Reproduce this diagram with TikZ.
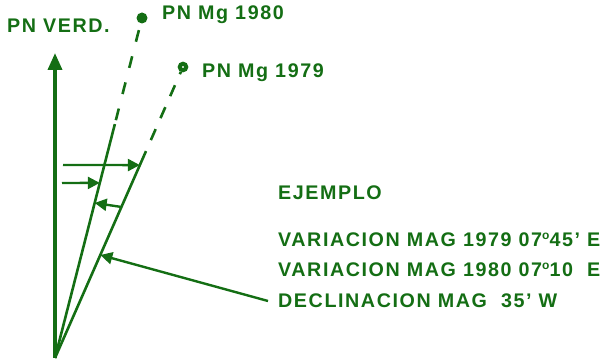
\documentclass[tikz,border=0pt]{standalone}
\usepackage{fontspec}
\usepackage{tikz}
\usetikzlibrary{arrows.meta,calc}
\newfontfamily\labelfont{Liberation Sans}[LetterSpace=8]
\definecolor{ngreen}{HTML}{146E14}
\newcommand{\degr}{\raisebox{7pt}{\fontsize{12}{12}\selectfont o}}
\tikzset{
  lbl/.style={font=\labelfont\fontsize{19.7}{22}\selectfont\bfseries, text=ngreen, inner sep=0pt, anchor=base west},
  dirline/.style={draw=ngreen, line width=2.6pt},
  dashline/.style={dirline, dash pattern=on 12pt off 15pt},
  ar/.style={-{Triangle[length=12pt,width=12pt]}, draw=ngreen, line width=2.4pt},
  northar/.style={-{Triangle[length=17pt,width=14pt]}, draw=ngreen, line width=3.6pt},
  dotfull/.style={circle, fill=ngreen, inner sep=0pt, minimum size=11pt},
  dotring/.style={circle, draw=ngreen, fill=white, line width=4pt, inner sep=0pt, minimum size=6.5pt},
}
\begin{document}
\begin{tikzpicture}[x=1pt,y=-1pt]
\useasboundingbox (0,0) rectangle (606,363);
\coordinate (o) at (55,358);
\coordinate (verd) at (55,53);
\node[dotfull] (p80) at (142,18) {};
\node[dotring] (p79) at (183,67) {};

% where the solid parts stop
\coordinate (c80) at ($(o)!0.688!(p80)$);
\coordinate (c79) at ($(o)!0.711!(p79)$);
% arrow ends on the two lines
\coordinate (a1e) at ($(o)!0.663!(p79)$);
\coordinate (a2e) at ($(o)!0.515!(p80)$);
\coordinate (a3s) at ($(o)!0.519!(p79)$);
\coordinate (a3e) at ($(o)!0.456!(p80)$);
\coordinate (a4e) at ($(o)!0.354!(p79)$);
\coordinate (a1s) at (63,165);
\coordinate (a2s) at (62,183);
\coordinate (a4s) at (268,301);

\draw[northar] (o) -- (verd);
\draw[dirline] (o) -- (c80);
\draw[dirline] (o) -- (c79);
\draw[dashline, dash phase=23pt] (c80) -- (p80);
\draw[dashline, dash pattern=on 12pt off 12pt, dash phase=12pt] (c79) -- (p79);

\draw[ar] (a1s) -- (a1e);
\draw[ar] (a2s) -- (a2e);
\draw[ar] (a3s) -- (a3e);
\draw[ar] (a4s) -- (a4e);

\node[lbl] (verdlbl) at (7,33) {PN VERD.};
\node[lbl] (lbl80) at (162,19.5) {PN Mg 1980};
\node[lbl] (lbl79) at (202,78) {PN Mg 1979};
\node[lbl] (ej) at (278,200) {EJEMPLO};
\node[lbl] (var79) at (278,247) {VARIACION MAG 1979 07\degr45’ E};
\node[lbl] (var80) at (278,277) {VARIACION MAG 1980 07\degr10\ \ E};
\node[lbl] (decl) at (278,308) {DECLINACION MAG\ \ 35’ W};
\end{tikzpicture}
\end{document}
